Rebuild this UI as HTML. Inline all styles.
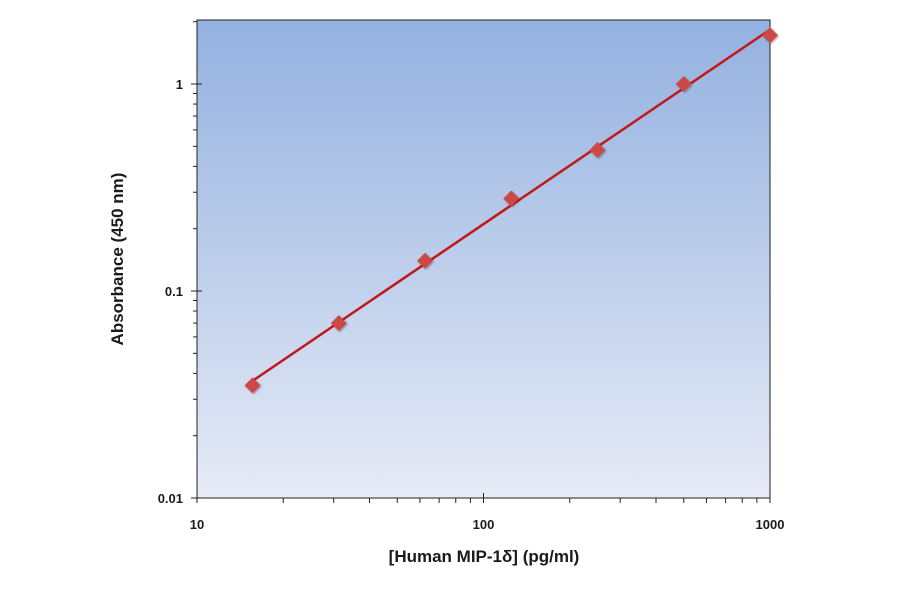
<!DOCTYPE html>
<html><head><meta charset="utf-8"><style>
body{margin:0;background:#fff;}
svg text{font-family:"Liberation Sans",sans-serif;font-weight:bold;fill:#1a1a1a;}
</style></head><body>
<svg id="chart" width="900" height="594" xmlns="http://www.w3.org/2000/svg">
<defs><linearGradient id="bg" x1="0" y1="0" x2="0" y2="1">
<stop offset="0" stop-color="#94b1e0"/><stop offset="1" stop-color="#e6ebf6"/></linearGradient>
<filter id="sh" x="-50%" y="-50%" width="200%" height="200%"><feDropShadow dx="1" dy="1" stdDeviation="1" flood-opacity="0.35"/></filter></defs>
<rect x="197" y="20" width="573" height="478" fill="url(#bg)" stroke="#222" stroke-width="1"/>
<g id="axes"></g><g id="marks"></g>
<text x="484" y="562" text-anchor="middle" font-size="17">[Human MIP-1δ] (pg/ml)</text>
<text transform="translate(123,259) rotate(-90)" text-anchor="middle" font-size="17">Absorbance (450 nm)</text>
</svg>
<script>
const concentrations=[15.625,31.25,62.5,125,250,500,1000];
const absorbance=[0.035,0.07,0.14,0.28,0.48,1.0,1.72];
const xTicks=[10,100,1000];
const yTicks=[0.01,0.1,1];
const xTickLabels=["10","100","1000"];
const yTickLabels=["0.01","0.1","1"];
const L=197,R=770,T=20,B=498;
const X=v=>L+(Math.log10(v)-1)*(R-L)/2;
const Y=v=>B-(Math.log10(v)+2)*207;
const NS="http://www.w3.org/2000/svg";
const ax=document.getElementById('axes'),mk=document.getElementById('marks');
function mkEl(t,a,p){const e=document.createElementNS(NS,t);for(const k in a)e.setAttribute(k,a[k]);p.appendChild(e);return e;}
xTicks.forEach((v,i)=>{const x=X(v);
 const l=mkEl('line',{x1:x,x2:x,y1:B-5,y2:B+5,stroke:'#222'},ax);
 
 
 const t=mkEl('text',{x:x,y:B+31,'text-anchor':'middle','font-size':13},ax);t.textContent=xTickLabels[i];
 
 
 if(i<xTicks.length-1)for(let m=2;m<10;m++){const xm=X(v*m);
  const n=mkEl('line',{x1:xm,x2:xm,y1:B,y2:B+5,stroke:'#222'},ax);
  
  }
});
yTicks.forEach((v,i)=>{const y=Y(v);
 const l=mkEl('line',{x1:L-6,x2:L+5,y1:y,y2:y,stroke:'#222'},ax);
 
 
 const t=mkEl('text',{x:L-14,y:y+5,'text-anchor':'end','font-size':13},ax);t.textContent=yTickLabels[i];
 
 
 for(let m=2;m<10;m++){const ym=Y(v*m);if(ym<T)break;
  const n=mkEl('line',{x1:L-4,x2:L,y1:ym,y2:ym,stroke:'#222'},ax);
  
  }
});
const lx=concentrations.map(Math.log10),ly=absorbance.map(Math.log10),n=lx.length;
const mx=lx.reduce((a,b)=>a+b)/n,my=ly.reduce((a,b)=>a+b)/n;
let sxy=0,sxx=0;for(let i=0;i<n;i++){sxy+=(lx[i]-mx)*(ly[i]-my);sxx+=(lx[i]-mx)**2;}
const sl=sxy/sxx,ic=my-sl*mx,f=v=>Math.pow(10,ic+sl*Math.log10(v));
const x0=concentrations[0],x1=concentrations[n-1];
const tl=mkEl('line',{x1:X(x0),y1:Y(f(x0)),x2:X(x1),y2:Y(f(x1)),stroke:'#c0181b','stroke-width':2.5},mk);


concentrations.forEach((c,i)=>{const x=X(c),y=Y(absorbance[i]);
 const p=mkEl('polygon',{points:`${x},${y-8} ${x+8},${y} ${x},${y+8} ${x-8},${y}`,fill:'#cc4a45',filter:'url(#sh)'},mk);
 
 
});
</script>
</body></html>
